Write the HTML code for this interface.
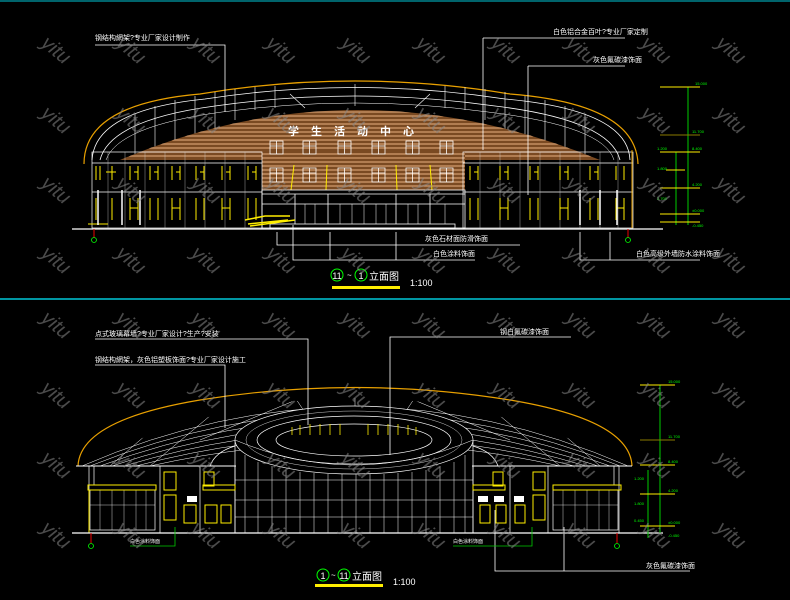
<!DOCTYPE html>
<html><head><meta charset="utf-8"><style>
html,body{margin:0;padding:0;background:#000;}
svg{display:block;}
text{font-family:"Liberation Sans","Noto Sans CJK SC",sans-serif;}
</style></head><body>
<svg width="790" height="600" viewBox="0 0 790 600" xmlns="http://www.w3.org/2000/svg">
<defs>
<clipPath id="roofTop"><path d="M120,160 Q355,60 600,160 Z"/></clipPath>
<clipPath id="domeB"><path d="M78,466 Q355,330 632,466 Z"/></clipPath>
</defs>
<rect width="790" height="600" fill="#000"/>
<line x1="0" y1="1" x2="790" y2="1" stroke="#00c8d8" stroke-width="1"/>
<line x1="0" y1="299" x2="790" y2="299" stroke="#00c8d8" stroke-width="1.5"/>

<!-- ============ TOP ELEVATION ============ -->
<g stroke="#fff" stroke-width="0.8" fill="none">
 <path d="M84,164 Q84,104 200,94 Q355,68 510,94 Q636,104 638,164" stroke="#e8a000" stroke-width="1.2"/>
 <path d="M92,160 Q95,110 205,99 Q355,76 505,99 Q628,110 630,160"/>
 <path d="M100,160 Q110,120 215,106 Q355,86 495,106 Q610,120 620,160"/>
 <path d="M106,160 Q118,126 222,112 Q355,94 488,112 Q604,126 614,160" stroke-width="0.5"/>
 <g stroke-width="0.6">
  <line x1="135" y1="114" x2="135" y2="160"/><line x1="155" y1="106" x2="155" y2="160"/>
  <line x1="175" y1="100" x2="175" y2="150"/><line x1="195" y1="96" x2="195" y2="140"/>
  <line x1="215" y1="92" x2="215" y2="130"/><line x1="235" y1="89" x2="235" y2="120"/>
  <line x1="255" y1="87" x2="255" y2="110"/><line x1="275" y1="86" x2="275" y2="108"/>
  <line x1="445" y1="86" x2="445" y2="108"/><line x1="465" y1="87" x2="465" y2="110"/>
  <line x1="485" y1="89" x2="485" y2="120"/><line x1="505" y1="92" x2="505" y2="130"/>
  <line x1="525" y1="96" x2="525" y2="140"/><line x1="545" y1="100" x2="545" y2="150"/>
  <line x1="565" y1="106" x2="565" y2="160"/><line x1="585" y1="114" x2="585" y2="160"/>
  <line x1="290" y1="94" x2="305" y2="108"/><line x1="430" y1="94" x2="415" y2="108"/>
  <line x1="355" y1="84" x2="355" y2="106"/>
 </g>
</g>
<g clip-path="url(#roofTop)">
 <rect x="100" y="60" width="520" height="110" fill="#7a4a22"/>
 <g stroke="#e8b080" stroke-width="1">
  <line x1="100" y1="108" x2="620" y2="108"/><line x1="100" y1="112" x2="620" y2="112"/>
  <line x1="100" y1="116" x2="620" y2="116"/><line x1="100" y1="120" x2="620" y2="120"/>
  <line x1="100" y1="124" x2="620" y2="124"/><line x1="100" y1="128" x2="620" y2="128"/>
  <line x1="100" y1="132" x2="620" y2="132"/><line x1="100" y1="136" x2="620" y2="136"/>
  <line x1="100" y1="140" x2="620" y2="140"/><line x1="100" y1="144" x2="620" y2="144"/>
  <line x1="100" y1="148" x2="620" y2="148"/><line x1="100" y1="152" x2="620" y2="152"/>
  <line x1="100" y1="156" x2="620" y2="156"/>
 </g>
 <rect x="100" y="60" width="520" height="47" fill="#000"/>
 <g stroke="#fff" stroke-width="0.6">
  <line x1="260" y1="90" x2="460" y2="90"/><line x1="240" y1="96" x2="480" y2="96"/>
  <line x1="230" y1="102" x2="490" y2="102"/><line x1="300" y1="85" x2="420" y2="85"/>
 </g>
</g>
<text x="357" y="135" fill="#fff" font-size="11" font-weight="bold" text-anchor="middle" letter-spacing="12">学生活动中心</text>
<rect x="262" y="150" width="203" height="40" fill="#7a4a22"/>
<g stroke="#e8b080" stroke-width="1">
 <line x1="262" y1="154" x2="465" y2="154"/><line x1="262" y1="158" x2="465" y2="158"/>
 <line x1="262" y1="162" x2="465" y2="162"/><line x1="262" y1="166" x2="465" y2="166"/>
 <line x1="262" y1="170" x2="465" y2="170"/><line x1="262" y1="174" x2="465" y2="174"/>
 <line x1="262" y1="178" x2="465" y2="178"/><line x1="262" y1="182" x2="465" y2="182"/>
 <line x1="262" y1="186" x2="465" y2="186"/>
</g>
<g stroke="#fff" stroke-width="0.8" fill="none">
 <path d="M270,141h13v13h-13zM276.5,141v13M270,146h13"/>
 <path d="M303,141h13v13h-13zM309.5,141v13M303,146h13"/>
 <path d="M338,141h13v13h-13zM344.5,141v13M338,146h13"/>
 <path d="M372,141h13v13h-13zM378.5,141v13M372,146h13"/>
 <path d="M406,141h13v13h-13zM412.5,141v13M406,146h13"/>
 <path d="M440,141h13v13h-13zM446.5,141v13M440,146h13"/>
 <path d="M270,168h13v14h-13zM276.5,168v14M270,173h13"/>
 <path d="M303,168h13v14h-13zM309.5,168v14M303,173h13"/>
 <path d="M338,168h13v14h-13zM344.5,168v14M338,173h13"/>
 <path d="M372,168h13v14h-13zM378.5,168v14M372,173h13"/>
 <path d="M406,168h13v14h-13zM412.5,168v14M406,173h13"/>
 <path d="M440,168h13v14h-13zM446.5,168v14M440,173h13"/>
</g>
<g stroke="#ffee00" stroke-width="1">
 <line x1="294" y1="165" x2="291" y2="190"/><line x1="327" y1="165" x2="326" y2="190"/>
 <line x1="396" y1="165" x2="397" y2="190"/><line x1="430" y1="165" x2="432" y2="190"/>
</g>
<g stroke="#fff" stroke-width="0.8" fill="none">
 <rect x="262" y="190" width="203" height="38"/>
 <line x1="262" y1="194" x2="465" y2="194"/>
 <line x1="262" y1="204" x2="465" y2="204"/>
 <line x1="295" y1="194" x2="295" y2="224"/><line x1="328" y1="194" x2="328" y2="224"/>
 <line x1="396" y1="194" x2="396" y2="224"/><line x1="430" y1="194" x2="430" y2="224"/>
 <g stroke-width="0.5">
  <line x1="305" y1="204" x2="305" y2="224"/><line x1="315" y1="204" x2="315" y2="224"/>
  <line x1="340" y1="204" x2="340" y2="224"/><line x1="352" y1="204" x2="352" y2="224"/>
  <line x1="364" y1="204" x2="364" y2="224"/><line x1="376" y1="204" x2="376" y2="224"/>
  <line x1="386" y1="204" x2="386" y2="224"/><line x1="408" y1="204" x2="408" y2="224"/>
  <line x1="418" y1="204" x2="418" y2="224"/><line x1="445" y1="204" x2="445" y2="224"/>
 </g>
 <rect x="270" y="224" width="185" height="4"/>
</g>
<g stroke="#fff" stroke-width="0.7" fill="none">
 <rect x="92" y="152" width="170" height="76"/>
 <rect x="463" y="152" width="170" height="76"/>
 <line x1="92" y1="163" x2="262" y2="163"/><line x1="463" y1="163" x2="633" y2="163"/>
 <line x1="92" y1="192" x2="262" y2="192"/><line x1="463" y1="192" x2="633" y2="192"/>
 <g stroke-width="0.4" stroke="#ccc">
  <line x1="108" y1="152" x2="108" y2="228"/><line x1="125" y1="152" x2="125" y2="228"/>
  <line x1="145" y1="152" x2="145" y2="228"/><line x1="165" y1="152" x2="165" y2="228"/>
  <line x1="185" y1="152" x2="185" y2="228"/><line x1="205" y1="152" x2="205" y2="228"/>
  <line x1="225" y1="152" x2="225" y2="228"/><line x1="245" y1="152" x2="245" y2="228"/>
  <line x1="480" y1="152" x2="480" y2="228"/><line x1="500" y1="152" x2="500" y2="228"/>
  <line x1="520" y1="152" x2="520" y2="228"/><line x1="540" y1="152" x2="540" y2="228"/>
  <line x1="560" y1="152" x2="560" y2="228"/><line x1="580" y1="152" x2="580" y2="228"/>
  <line x1="600" y1="152" x2="600" y2="228"/><line x1="618" y1="152" x2="618" y2="228"/>
 </g>
</g>
<g stroke="#ffee00" stroke-width="1" fill="none">
 <path d="M96,166v14M100,166v14M106,172h10M112,166v14M130,166v14M138,166v14M134,172h4M150,166v14M158,166v14M154,172h4M172,166v14M180,166v14M176,172h4M196,166v14M204,166v14M200,172h4M222,166v14M230,166v14M226,172h4M248,166v14M256,166v14M252,172h4"/>
 <path d="M96,198v22M112,198v22M130,198v22M138,198v22M150,198v22M158,198v22M172,198v22M180,198v22M196,198v22M204,198v22M222,198v22M230,198v22M248,198v22M256,198v22M130,208h8M172,208h8M222,208h8"/>
 <path d="M470,166v14M478,166v14M474,172h4M500,166v14M508,166v14M504,172h4M530,166v14M538,166v14M534,172h4M560,166v14M568,166v14M564,172h4M590,166v14M598,166v14M594,172h4M616,166v14M624,166v14"/>
 <path d="M470,198v22M478,198v22M500,198v22M508,198v22M530,198v22M538,198v22M560,198v22M568,198v22M590,198v22M598,198v22M616,198v22M624,198v22M500,208h8M560,208h8M616,208h8"/>
 <path d="M245,220l20,-4l25,0M248,224l40,-4M250,226l45,-6" stroke-width="1.5"/>
 <path d="M88,224h20"/>
</g>
<line x1="632" y1="150" x2="632" y2="228" stroke="#e8a000" stroke-width="1"/>
<g stroke="#fff" stroke-width="1.5">
 <line x1="98" y1="190" x2="98" y2="225"/><line x1="122" y1="190" x2="122" y2="225"/>
 <line x1="140" y1="190" x2="140" y2="225"/><line x1="580" y1="190" x2="580" y2="225"/>
 <line x1="600" y1="190" x2="600" y2="225"/><line x1="617" y1="190" x2="617" y2="225"/>
</g>
<line x1="72" y1="229" x2="663" y2="229" stroke="#fff" stroke-width="1.2"/>
<line x1="94" y1="229" x2="94" y2="238" stroke="#e00" stroke-width="1"/>
<circle cx="94" cy="240" r="2.5" stroke="#0f0" fill="none" stroke-width="0.8"/>
<line x1="628" y1="229" x2="628" y2="238" stroke="#e00" stroke-width="1"/>
<circle cx="628" cy="240" r="2.5" stroke="#0f0" fill="none" stroke-width="0.8"/>
<g stroke="#fff" stroke-width="0.8" fill="none">
 <polyline points="95,45 225,45 225,112"/>
 <polyline points="483,38 625,38"/><line x1="483" y1="38" x2="483" y2="150"/>
 <polyline points="528,66 625,66"/><line x1="528" y1="66" x2="528" y2="195"/>
 <polyline points="277,232 277,245 520,245"/><polyline points="293,225 293,260 475,260"/>
 <line x1="330" y1="232" x2="330" y2="260"/><line x1="396" y1="232" x2="396" y2="260"/>
 <polyline points="580,232 580,260 700,260"/><line x1="610" y1="232" x2="610" y2="260"/>
</g>
<g fill="#fff" font-size="7">
 <text x="95" y="40">钢结构網架?专业厂家设计制作</text>
 <text x="553" y="34">白色铝合金百叶?专业厂家定制</text>
 <text x="593" y="62">灰色氟碳漆饰面</text>
 <text x="425" y="241">灰色石材面防滑饰面</text>
 <text x="433" y="256">白色涂料饰面</text>
 <text x="636" y="256">白色高级外墙防水涂料饰面</text>
</g>
<g stroke-width="1">
 <line x1="688" y1="87" x2="688" y2="225" stroke="#0c0"/>
 <line x1="676" y1="152" x2="676" y2="225" stroke="#0c0"/>
 <g stroke="#ffee00">
  <line x1="660" y1="87" x2="700" y2="87"/><line x1="660" y1="152" x2="700" y2="152"/>
  <line x1="660" y1="188" x2="700" y2="188"/><line x1="660" y1="214" x2="700" y2="214"/>
  <line x1="660" y1="222" x2="700" y2="222"/><line x1="666" y1="170" x2="685" y2="170"/>
 </g>
 <line x1="660" y1="135" x2="700" y2="135" stroke="#8a7a00"/>
</g>
<g fill="#0f0" font-size="4">
 <text x="695" y="85">15.000</text><text x="692" y="133">11.700</text><text x="692" y="150">8.400</text>
 <text x="692" y="186">4.200</text><text x="692" y="212">±0.000</text><text x="692" y="227">-0.450</text>
 <text x="657" y="150">1.200</text><text x="657" y="170">1.800</text><text x="657" y="200">2.700</text>
</g>
<g>
 <circle cx="337" cy="275" r="6" stroke="#0f0" fill="none"/><text x="337" y="279" fill="#fff" font-size="9" text-anchor="middle">11</text>
 <text x="347" y="278" fill="#fff" font-size="8">~</text>
 <circle cx="361" cy="275" r="6" stroke="#0f0" fill="none"/><text x="361" y="279" fill="#fff" font-size="9" text-anchor="middle">1</text>
 <text x="369" y="280" fill="#fff" font-size="10">立面图</text>
 <rect x="332" y="286" width="68" height="3" fill="#ffee00"/>
 <text x="410" y="286" fill="#fff" font-size="9">1:100</text>
</g>

<!-- ============ BOTTOM ELEVATION ============ -->
<g clip-path="url(#domeB)">
 <g stroke="#fff" stroke-width="0.5" fill="none">
  <path d="M90,466 Q355,360 620,466"/><path d="M100,466 Q355,372 610,466"/>
  <path d="M112,466 Q355,384 598,466"/><path d="M124,466 Q355,396 586,466"/>
  <path d="M136,466 Q355,408 574,466"/><path d="M150,466 Q355,420 560,466"/>
  <path d="M82,466 Q355,348 628,466"/>
  <line x1="150" y1="466" x2="235" y2="395"/><line x1="200" y1="440" x2="320" y2="390"/>
  <line x1="560" y1="466" x2="475" y2="395"/><line x1="510" y1="440" x2="390" y2="390"/>
  <line x1="110" y1="466" x2="175" y2="410"/><line x1="600" y1="466" x2="535" y2="410"/>
  <line x1="290" y1="390" x2="310" y2="420"/><line x1="420" y1="390" x2="400" y2="420"/>
  <line x1="355" y1="382" x2="355" y2="410"/>
 </g>
</g>
<path d="M78,466 Q80,420 200,400 Q355,375 510,400 Q630,420 632,466" stroke="#e8a000" stroke-width="1.2" fill="none"/>
<line x1="76" y1="466" x2="236" y2="466" stroke="#fff"/><line x1="472" y1="466" x2="632" y2="466" stroke="#fff"/>
<g stroke="#fff" fill="none" stroke-width="0.7">
 <path d="M235,440 L235,533 M473,440 L473,533"/>
 <ellipse cx="354" cy="440" rx="119" ry="34" fill="#000"/>
 <ellipse cx="354" cy="440" rx="97" ry="24"/>
 <ellipse cx="354" cy="440" rx="78" ry="16"/>
 <ellipse cx="354" cy="440" rx="108" ry="29" stroke-width="0.4"/>
 <path d="M235,440 Q354,490 473,440" stroke-width="0.5"/>
 <g stroke-width="0.5">
  <line x1="245" y1="455" x2="245" y2="533"/><line x1="258" y1="462" x2="258" y2="533"/>
  <line x1="272" y1="466" x2="272" y2="533"/><line x1="286" y1="470" x2="286" y2="533"/>
  <line x1="300" y1="472" x2="300" y2="533"/><line x1="314" y1="473" x2="314" y2="533"/>
  <line x1="328" y1="474" x2="328" y2="533"/><line x1="342" y1="474" x2="342" y2="533"/>
  <line x1="356" y1="474" x2="356" y2="533"/><line x1="370" y1="474" x2="370" y2="533"/>
  <line x1="384" y1="474" x2="384" y2="533"/><line x1="398" y1="473" x2="398" y2="533"/>
  <line x1="412" y1="472" x2="412" y2="533"/><line x1="426" y1="470" x2="426" y2="533"/>
  <line x1="440" y1="466" x2="440" y2="533"/><line x1="454" y1="462" x2="454" y2="533"/>
  <line x1="465" y1="455" x2="465" y2="533"/>
  <line x1="235" y1="480" x2="473" y2="480"/><line x1="235" y1="500" x2="473" y2="500"/>
  <line x1="235" y1="517" x2="473" y2="517"/>
 </g>
</g>
<g stroke="#ffee00" stroke-width="0.8">
 <line x1="292" y1="427" x2="292" y2="435"/><line x1="300" y1="425" x2="300" y2="435"/>
 <line x1="310" y1="424" x2="310" y2="435"/><line x1="320" y1="424" x2="320" y2="435"/>
 <line x1="330" y1="424" x2="330" y2="435"/><line x1="340" y1="424" x2="340" y2="435"/>
 <line x1="368" y1="424" x2="368" y2="435"/><line x1="378" y1="424" x2="378" y2="435"/>
 <line x1="388" y1="424" x2="388" y2="435"/><line x1="398" y1="424" x2="398" y2="435"/>
 <line x1="408" y1="425" x2="408" y2="435"/><line x1="416" y1="427" x2="416" y2="435"/>
</g>
<g stroke="#fff" stroke-width="0.7" fill="none">
 <path d="M210,466 Q215,452 235,446"/><path d="M498,466 Q493,452 473,446"/>
 <rect x="89" y="466" width="146" height="67"/>
 <rect x="473" y="466" width="146" height="67"/>
 <rect x="90" y="490" width="65" height="40"/><rect x="553" y="490" width="65" height="40"/>
 <g stroke-width="0.4">
  <line x1="100" y1="490" x2="100" y2="530"/><line x1="112" y1="490" x2="112" y2="530"/>
  <line x1="124" y1="490" x2="124" y2="530"/><line x1="136" y1="490" x2="136" y2="530"/>
  <line x1="146" y1="490" x2="146" y2="530"/><line x1="90" y1="505" x2="155" y2="505"/>
  <line x1="563" y1="490" x2="563" y2="530"/><line x1="575" y1="490" x2="575" y2="530"/>
  <line x1="587" y1="490" x2="587" y2="530"/><line x1="599" y1="490" x2="599" y2="530"/>
  <line x1="609" y1="490" x2="609" y2="530"/><line x1="553" y1="505" x2="618" y2="505"/>
 </g>
 <line x1="94" y1="466" x2="94" y2="485"/><line x1="614" y1="466" x2="614" y2="485"/>
 <line x1="160" y1="466" x2="160" y2="533"/><line x1="200" y1="466" x2="200" y2="533"/>
 <line x1="510" y1="466" x2="510" y2="533"/><line x1="548" y1="466" x2="548" y2="533"/>
</g>
<g stroke="#ffee00" stroke-width="1" fill="none">
 <rect x="88" y="485" width="68" height="5"/><rect x="553" y="485" width="68" height="5"/>
 <rect x="203" y="485" width="32" height="5"/><rect x="473" y="485" width="32" height="5"/>
 <line x1="89" y1="490" x2="89" y2="533"/>
 <rect x="164" y="472" width="12" height="18"/><rect x="164" y="495" width="12" height="25"/>
 <rect x="184" y="505" width="12" height="18"/><rect x="205" y="505" width="12" height="18"/>
 <rect x="221" y="505" width="10" height="18"/><rect x="204" y="472" width="10" height="14"/>
 <rect x="480" y="505" width="10" height="18"/><rect x="496" y="505" width="10" height="18"/>
 <rect x="515" y="505" width="10" height="18"/><rect x="533" y="495" width="12" height="25"/>
 <rect x="533" y="472" width="12" height="18"/><rect x="493" y="472" width="10" height="14"/>
</g>
<g fill="#fff"><rect x="187" y="496" width="10" height="6"/><rect x="478" y="496" width="10" height="6"/><rect x="494" y="496" width="10" height="6"/><rect x="514" y="496" width="10" height="6"/></g>
<line x1="72" y1="533" x2="663" y2="533" stroke="#fff" stroke-width="1.2"/>
<line x1="91" y1="533" x2="91" y2="543" stroke="#e00"/><circle cx="91" cy="546" r="2.5" stroke="#0f0" fill="none" stroke-width="0.8"/>
<line x1="617" y1="533" x2="617" y2="543" stroke="#e00"/><circle cx="617" cy="546" r="2.5" stroke="#0f0" fill="none" stroke-width="0.8"/>
<g stroke="#fff" stroke-width="0.8" fill="none">
 <polyline points="95,339 308,339 308,425"/>
 <polyline points="95,365 225,365 225,428"/>
 <polyline points="571,337 390,337 390,455"/>
 <polyline points="495,510 495,571 690,571"/><line x1="564" y1="527" x2="564" y2="571"/>
</g>
<g stroke="#0c0" stroke-width="0.8" fill="none">
 <polyline points="130,546 175,546 175,527"/>
 <polyline points="453,546 532,546 532,527"/>
</g>
<g fill="#fff" font-size="7">
 <text x="95" y="336">点式玻璃幕墙?专业厂家设计?生产?安装</text>
 <text x="95" y="362">钢结构網架，灰色铝塑板饰面?专业厂家设计施工</text>
 <text x="500" y="334">钢白氟碳漆饰面</text>
 <text x="646" y="568">灰色氟碳漆饰面</text>
 <text x="130" y="543" font-size="5">白色涂料饰面</text>
 <text x="453" y="543" font-size="5">白色涂料饰面</text>
</g>
<g stroke-width="1">
 <line x1="660" y1="385" x2="660" y2="533" stroke="#0c0"/>
 <line x1="648" y1="470" x2="648" y2="538" stroke="#0c0"/>
 <g stroke="#ffee00">
  <line x1="640" y1="385" x2="675" y2="385"/><line x1="640" y1="465" x2="675" y2="465"/>
  <line x1="640" y1="494" x2="675" y2="494"/><line x1="640" y1="526" x2="675" y2="526"/>
 </g>
 <line x1="640" y1="440" x2="675" y2="440" stroke="#8a7a00"/>
</g>
<g fill="#0f0" font-size="4">
 <text x="668" y="383">15.000</text><text x="668" y="438">11.700</text><text x="668" y="463">8.400</text>
 <text x="668" y="492">4.200</text><text x="668" y="524">±0.000</text><text x="668" y="537">-0.450</text>
 <text x="634" y="480">1.200</text><text x="634" y="505">1.800</text><text x="634" y="522">0.450</text>
</g>
<g>
 <circle cx="323" cy="575" r="6" stroke="#0f0" fill="none"/><text x="323" y="579" fill="#fff" font-size="9" text-anchor="middle">1</text>
 <text x="331" y="578" fill="#fff" font-size="8">~</text>
 <circle cx="344" cy="575" r="6" stroke="#0f0" fill="none"/><text x="344" y="579" fill="#fff" font-size="9" text-anchor="middle">11</text>
 <text x="352" y="580" fill="#fff" font-size="10">立面图</text>
 <rect x="315" y="584" width="68" height="3" fill="#ffee00"/>
 <text x="393" y="585" fill="#fff" font-size="9">1:100</text>
</g>

<g fill="#888" fill-opacity="0.55" font-size="20" font-style="italic" font-family="Liberation Sans, sans-serif">
 <text transform="translate(40,45) rotate(40)">yitu</text><text transform="translate(115,45) rotate(40)">yitu</text>
 <text transform="translate(190,45) rotate(40)">yitu</text><text transform="translate(265,45) rotate(40)">yitu</text>
 <text transform="translate(340,45) rotate(40)">yitu</text><text transform="translate(415,45) rotate(40)">yitu</text>
 <text transform="translate(490,45) rotate(40)">yitu</text><text transform="translate(565,45) rotate(40)">yitu</text>
 <text transform="translate(640,45) rotate(40)">yitu</text><text transform="translate(715,45) rotate(40)">yitu</text>
 <text transform="translate(40,115) rotate(40)">yitu</text><text transform="translate(115,115) rotate(40)">yitu</text>
 <text transform="translate(190,115) rotate(40)">yitu</text><text transform="translate(265,115) rotate(40)">yitu</text>
 <text transform="translate(340,115) rotate(40)">yitu</text><text transform="translate(415,115) rotate(40)">yitu</text>
 <text transform="translate(490,115) rotate(40)">yitu</text><text transform="translate(565,115) rotate(40)">yitu</text>
 <text transform="translate(640,115) rotate(40)">yitu</text><text transform="translate(715,115) rotate(40)">yitu</text>
 <text transform="translate(40,185) rotate(40)">yitu</text><text transform="translate(115,185) rotate(40)">yitu</text>
 <text transform="translate(190,185) rotate(40)">yitu</text><text transform="translate(265,185) rotate(40)">yitu</text>
 <text transform="translate(340,185) rotate(40)">yitu</text><text transform="translate(415,185) rotate(40)">yitu</text>
 <text transform="translate(490,185) rotate(40)">yitu</text><text transform="translate(565,185) rotate(40)">yitu</text>
 <text transform="translate(640,185) rotate(40)">yitu</text><text transform="translate(715,185) rotate(40)">yitu</text>
 <text transform="translate(40,255) rotate(40)">yitu</text><text transform="translate(115,255) rotate(40)">yitu</text>
 <text transform="translate(190,255) rotate(40)">yitu</text><text transform="translate(265,255) rotate(40)">yitu</text>
 <text transform="translate(340,255) rotate(40)">yitu</text><text transform="translate(415,255) rotate(40)">yitu</text>
 <text transform="translate(490,255) rotate(40)">yitu</text><text transform="translate(565,255) rotate(40)">yitu</text>
 <text transform="translate(640,255) rotate(40)">yitu</text><text transform="translate(715,255) rotate(40)">yitu</text>
 <text transform="translate(40,320) rotate(40)">yitu</text><text transform="translate(115,320) rotate(40)">yitu</text>
 <text transform="translate(190,320) rotate(40)">yitu</text><text transform="translate(265,320) rotate(40)">yitu</text>
 <text transform="translate(340,320) rotate(40)">yitu</text><text transform="translate(415,320) rotate(40)">yitu</text>
 <text transform="translate(490,320) rotate(40)">yitu</text><text transform="translate(565,320) rotate(40)">yitu</text>
 <text transform="translate(640,320) rotate(40)">yitu</text><text transform="translate(715,320) rotate(40)">yitu</text>
 <text transform="translate(40,390) rotate(40)">yitu</text><text transform="translate(115,390) rotate(40)">yitu</text>
 <text transform="translate(190,390) rotate(40)">yitu</text><text transform="translate(265,390) rotate(40)">yitu</text>
 <text transform="translate(340,390) rotate(40)">yitu</text><text transform="translate(415,390) rotate(40)">yitu</text>
 <text transform="translate(490,390) rotate(40)">yitu</text><text transform="translate(565,390) rotate(40)">yitu</text>
 <text transform="translate(640,390) rotate(40)">yitu</text><text transform="translate(715,390) rotate(40)">yitu</text>
 <text transform="translate(40,460) rotate(40)">yitu</text><text transform="translate(115,460) rotate(40)">yitu</text>
 <text transform="translate(190,460) rotate(40)">yitu</text><text transform="translate(265,460) rotate(40)">yitu</text>
 <text transform="translate(340,460) rotate(40)">yitu</text><text transform="translate(415,460) rotate(40)">yitu</text>
 <text transform="translate(490,460) rotate(40)">yitu</text><text transform="translate(565,460) rotate(40)">yitu</text>
 <text transform="translate(640,460) rotate(40)">yitu</text><text transform="translate(715,460) rotate(40)">yitu</text>
 <text transform="translate(40,530) rotate(40)">yitu</text><text transform="translate(115,530) rotate(40)">yitu</text>
 <text transform="translate(190,530) rotate(40)">yitu</text><text transform="translate(265,530) rotate(40)">yitu</text>
 <text transform="translate(340,530) rotate(40)">yitu</text><text transform="translate(415,530) rotate(40)">yitu</text>
 <text transform="translate(490,530) rotate(40)">yitu</text><text transform="translate(565,530) rotate(40)">yitu</text>
 <text transform="translate(640,530) rotate(40)">yitu</text><text transform="translate(715,530) rotate(40)">yitu</text>
</g>
</svg>
</body></html>
